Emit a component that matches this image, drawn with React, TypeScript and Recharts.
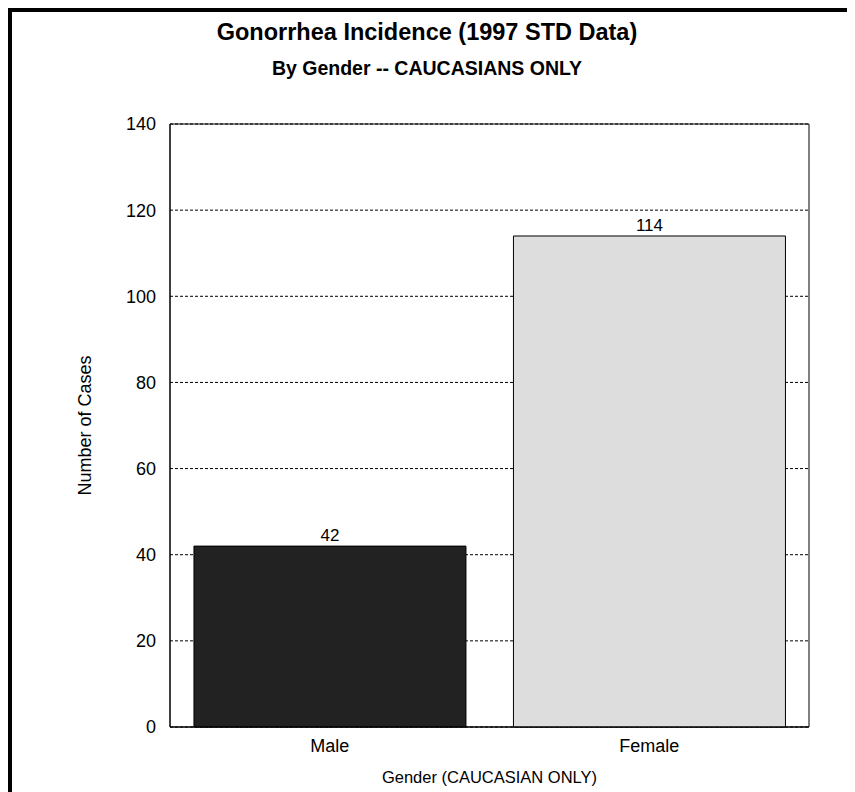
import React from 'react';
import { BarChart, Bar, XAxis, YAxis, CartesianGrid, LabelList } from 'recharts';

const genders = ['Male', 'Female'];
const cases = [42, 114];
const barColors = ['#222222', '#dddddd'];
const yTicks = [0, 20, 40, 60, 80, 100, 120, 140];

const data = genders.map((g, i) => ({ gender: g, cases: cases[i], fill: barColors[i] }));

const font = "'Liberation Sans', Arial, sans-serif";

const YLabel = (props: any) => {
  const vb = props.viewBox;
  const cx = 73;
  const cy = vb.y + vb.height / 2;
  return (
    <text
      x={cx}
      y={cy}
      transform={`rotate(-90, ${cx}, ${cy})`}
      textAnchor="middle"
      dominantBaseline="central"
      fontSize={18}
      fontFamily={font}
      fill="#000"
    >
      Number of Cases
    </text>
  );
};

// frame around the plot area: only its outer edges
const frameX = ({ offset }: any) => [offset.left, offset.left + offset.width];
const frameY = ({ offset }: any) => [offset.top, offset.top + offset.height];

export default function App() {
  return (
    <div style={{ border: '4px solid #000', width: 835, height: 790, position: 'relative', background: '#fff' }}>
      <div
        style={{
          position: 'absolute', top: 8, left: 0, width: 830, textAlign: 'center',
          fontFamily: font, fontWeight: 'bold', fontSize: 23.5, lineHeight: '24px',
        }}
      >
        Gonorrhea Incidence (1997 STD Data)
      </div>
      <div
        style={{
          position: 'absolute', top: 46, left: 0, width: 830, textAlign: 'center',
          fontFamily: font, fontWeight: 'bold', fontSize: 19.5, lineHeight: '20px',
        }}
      >
        By Gender -- CAUCASIANS ONLY
      </div>
      <BarChart
        width={835}
        height={780}
        data={data}
        margin={{ top: 112, right: 38, bottom: 0, left: 0 }}
        barCategoryGap="7.5%"
      >
        <CartesianGrid vertical={false} stroke="#000" strokeDasharray="3 2" />
        <CartesianGrid
          stroke="#000"
          horizontalCoordinatesGenerator={frameY}
          verticalCoordinatesGenerator={frameX}
        />
        <XAxis
          dataKey="gender"
          height={65}
          tickLine={false}
          tickSize={0}
          tickMargin={12}
          axisLine={{ stroke: '#000' }}
          tick={{ fill: '#000', fontSize: 18, fontFamily: font }}
          label={{ value: 'Gender (CAUCASIAN ONLY)', position: 'insideBottom', offset: 9, fill: '#000', fontSize: 16.5, fontFamily: font }}
        />
        <YAxis
          width={158}
          domain={[0, 140]}
          ticks={yTicks}
          tickLine={false}
          tickSize={0}
          tickMargin={14}
          axisLine={{ stroke: '#000' }}
          tick={{ fill: '#000', fontSize: 18, fontFamily: font }}
          label={<YLabel />}
        />
        <Bar dataKey="cases" stroke="#000" strokeWidth={1} isAnimationActive={false}>
          <LabelList dataKey="cases" position="top" fill="#000" fontSize={17} fontFamily={font} />
        </Bar>
      </BarChart>
    </div>
  );
}
